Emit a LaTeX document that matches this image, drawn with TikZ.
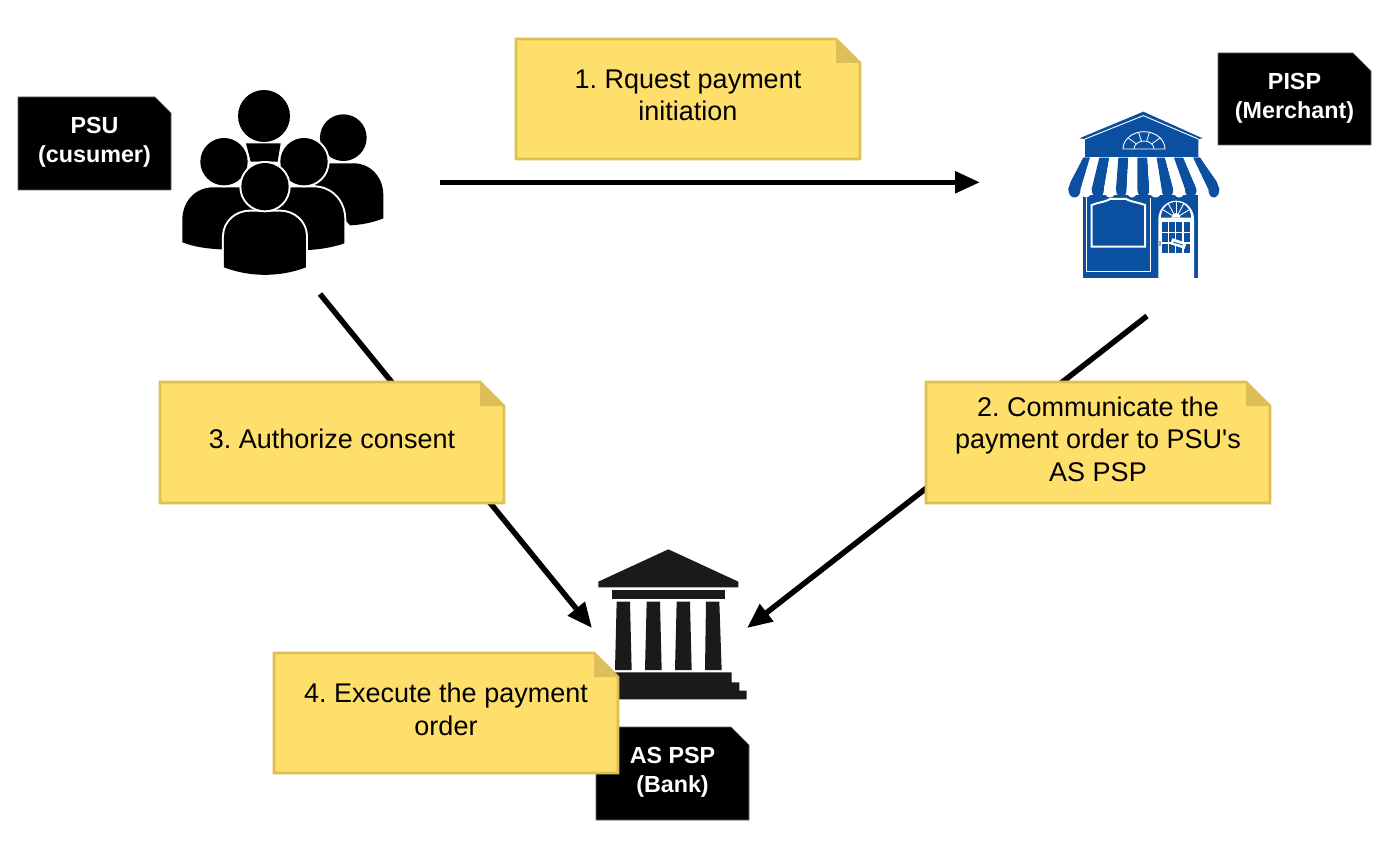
\documentclass[tikz,border=0pt]{standalone}
\usepackage{fontspec}
\setmainfont[Ligatures=TeXOff]{Liberation Sans}
\usetikzlibrary{arrows.meta}
\definecolor{noteyellow}{HTML}{FFDF6B}
\definecolor{noteedge}{HTML}{DDC053}
\definecolor{notefold}{HTML}{DDBE58}
\definecolor{shopblue}{HTML}{0B4FA0}
\definecolor{bankblack}{HTML}{1A1A1A}
\tikzset{
  link/.style={line width=5.5pt,black,-{Triangle[length=25pt,width=21pt]}},
  stickytext/.style={font=\fontsize{27}{32.6}\selectfont,align=center,text=black,inner sep=0pt},
  blacktext/.style={font=\fontsize{23.3}{29}\selectfont\bfseries,align=center,text=white,inner sep=0pt},
  personfill/.style={preaction={draw=white,line width=4pt},fill=black},
  icon/.style={x=0.33333pt,y=-0.33333pt}
}
% x1 y1 x2 y2 fold
\newcommand{\stickynote}[7]{%
  \path[fill=noteyellow,draw=noteedge,line width=2.6pt,line join=miter]
    (#1,#2) -- ({#3-#5},#2) -- (#3,{#2+#5}) -- (#3,#4) -- (#1,#4) -- cycle;
  \path[fill=notefold] ({#3-#5},#2) -- (#3,{#2+#5}) -- ({#3-#5},{#2+#5}) -- cycle;
  \node[stickytext] (#6) at ({(#1+#3)/2},{(#2+#4)/2-3.5}) {\frenchspacing #7};
}
\newcommand{\blacknote}[7]{%
  \path[fill=black,draw=black!60,line width=0.6pt]
    (#1,#2) -- ({#3-#5},#2) -- (#3,{#2+#5}) -- (#3,#4) -- (#1,#4) -- cycle;
  \node[blacktext] (#6) at ({(#1+#3)/2},{(#2+#4)/2-1}) {#7};
}
\newcommand{\awn}[5]{%
  \fill[#5] (#1,38) -- (#3,132) .. controls (#3,166) and (#4,166) .. (#4,132) -- (#2,38) -- cycle;
}
\begin{document}
\begin{tikzpicture}[x=1pt,y=-1pt]
\useasboundingbox (0,0) rectangle (1390,842);
\fill[white] (0,0) rectangle (1390,842);

% named connector ends
\coordinate (psuright) at (440,182.3);
\coordinate (pispleft) at (980,182.3);
\coordinate (psubottom) at (320,294);
\coordinate (bankleft) at (592,628);
\coordinate (pispbottom) at (1147,316);
\coordinate (bankright) at (747,628);

% connectors
\draw[link] (psuright) -- (pispleft);
\draw[link] (psubottom) -- (bankleft);
\draw[link] (pispbottom) -- (bankright);

% people icon (3x crop coordinates)
\begin{scope}[shift={(10,80)},icon]
  % back right person
  \path[personfill] (1120,415) .. controls (1090,428) and (1050,435) .. (1020,436) -- (900,300)
     -- (950,250) -- (1030,250) .. controls (1085,250) and (1120,295) .. (1120,345) -- cycle;
  \path[personfill] (1000,173) circle (70);
  % top centre
  \path[personfill] (762,108) circle (78);
  \fill[black] (708,190) -- (812,190) -- (803,245) -- (722,245) -- cycle;
  % right person
  \path[personfill] (1003,490) .. controls (970,502) and (930,508) .. (895,510) -- (760,510) -- (760,322)
     -- (910,322) .. controls (965,322) and (1003,365) .. (1003,420) -- cycle;
  \path[personfill] (882,245) circle (71);
  % left person
  \path[personfill] (517,487) .. controls (550,500) and (590,506) .. (630,508) -- (770,508) -- (770,322)
     -- (610,322) .. controls (555,322) and (517,365) .. (517,420) -- cycle;
  \path[personfill] (642,245) circle (71);
  % front person
  \path[personfill] (642,562) .. controls (720,592) and (810,592) .. (888,562) -- (888,470)
     .. controls (888,425) and (850,395) .. (810,395) -- (720,395)
     .. controls (680,395) and (642,425) .. (642,470) -- cycle;
  \path[personfill] (765,320) circle (71);
\end{scope}

% shop icon
\begin{scope}[shift={(1060,145)},icon]
  \fill[shopblue] (250,-100) -- (428,-20) -- (415,-18) -- (415,38) -- (75,38) -- (75,-18) -- (58,-20) -- cycle;
  \draw[white,line width=0.9pt] (75,-18) -- (250,-88) -- (415,-18);
  \draw[white,line width=0.9pt] (189,12) arc[start angle=180,end angle=360,x radius=63,y radius=52] -- cycle;
  \draw[white,line width=0.8pt] (222,12) arc[start angle=180,end angle=360,x radius=30,y radius=24];
  \foreach \a in {40,75,105,140}{\draw[white,line width=0.8pt] ({252+30*cos(\a)},{12-24*sin(\a)}) -- ({252+63*cos(\a)},{12-52*sin(\a)});}
  \draw[white,line width=0.9pt] (75,36) -- (415,36);
  % body
  \fill[shopblue] (70,150) rectangle (415,400);
  % awning
  \awn{70}{90}{25}{62}{shopblue}
  \fill[shopblue] (70,38) -- (32,110) -- (25,132) -- (62,132) -- (90,38) -- cycle;
  \awn{90}{118}{62}{95}{white}
  \awn{118}{148}{95}{132}{shopblue}
  \awn{148}{175}{132}{168}{white}
  \awn{175}{205}{168}{200}{shopblue}
  \awn{205}{232}{200}{232}{white}
  \awn{232}{262}{232}{268}{shopblue}
  \awn{262}{290}{268}{305}{white}
  \awn{290}{315}{305}{340}{shopblue}
  \awn{315}{342}{340}{375}{white}
  \awn{342}{370}{375}{410}{shopblue}
  \awn{370}{400}{410}{445}{white}
  \awn{400}{420}{445}{478}{shopblue}
  \fill[shopblue] (400,38) -- (420,38) -- (470,110) -- (478,132) -- (445,132) -- cycle;
  % wall frame and window
  \draw[white,line width=0.9pt] (80,160) -- (80,378) -- (272,378) -- (272,160);
  \draw[white,line width=2pt] (95,180) .. controls (115,172) and (140,170) .. (150,162)
    -- (198,162) .. controls (210,170) and (235,172) .. (255,180) -- (255,305) -- (95,305) -- cycle;
  % door
  \fill[white] (295,400) -- (295,222) arc[start angle=180,end angle=360,x radius=53.5,y radius=55] -- (402,400) -- cycle;
  \fill[shopblue] (303,218) arc[start angle=180,end angle=360,x radius=45,y radius=47] -- cycle;
  \fill[white] (334,218) arc[start angle=180,end angle=360,x radius=14,y radius=14] -- cycle;
  \foreach \a in {30,60,90,120,150}{\draw[white,line width=0.9pt] ({348+14*cos(\a)},{218-14*sin(\a)}) -- ({348+45*cos(\a)},{218-47*sin(\a)});}
  \foreach \cx in {305,327,349,371}{\foreach \cy in {232,264,296}{\fill[shopblue] (\cx,\cy) rectangle ++(18,28);}}
  \fill[white,rotate around={-18:(355,295)}] (333,286) rectangle (378,305);
  \draw[shopblue,line width=0.8pt,rotate around={-18:(355,295)}] (340,296) -- (370,296);
  \fill[black!35] (297,288) rectangle (302,304);
\end{scope}

% bank icon
\begin{scope}[shift={(560,540)},icon]
  \fill[bankblack] (325,28) -- (535,125) -- (535,142) -- (115,142) -- (115,125) -- cycle;
  \fill[bankblack] (155,150) rectangle (496,176);
  \fill[bankblack] (170,185) -- (210,185) -- (215,390) -- (165,390) -- cycle;
  \fill[bankblack] (260,185) -- (300,185) -- (305,390) -- (255,390) -- cycle;
  \fill[bankblack] (350,185) -- (390,185) -- (395,390) -- (345,390) -- cycle;
  \fill[bankblack] (438,185) -- (478,185) -- (485,390) -- (435,390) -- cycle;
  \fill[bankblack] (165,397) -- (515,397) -- (515,427) -- (538,427) -- (538,452) -- (560,452) -- (560,478) -- (165,478) -- cycle;
\end{scope}

% black labels
\blacknote{18}{97}{171}{190}{16}{psulabel}{PSU\\(cusumer)}
\blacknote{1218}{53}{1371}{145}{18}{pisplabel}{PISP\\(Merchant)}
\blacknote{596}{727}{749}{820}{18}{bank}{AS PSP\\(Bank)}

% sticky notes
\stickynote{516}{39}{860}{159}{24}{step1}{1. Rquest payment\\initiation}
\stickynote{926}{382}{1270}{503}{24}{step2}{2. Communicate the\\payment order to PSU's\\AS PSP}
\stickynote{160}{382}{504}{503}{24}{step3}{3. Authorize consent}
\stickynote{274}{653}{618}{773}{24}{step4}{4. Execute the payment\\order}
\end{tikzpicture}
\end{document}
